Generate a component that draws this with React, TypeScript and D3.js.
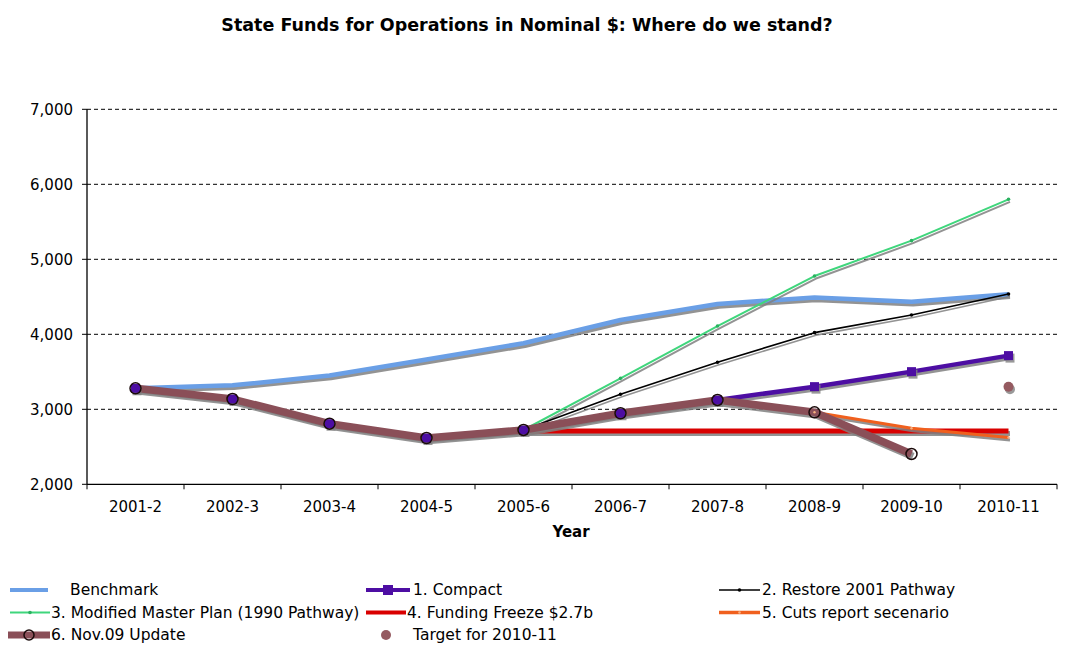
import React, { useEffect } from "react";
import * as d3 from "d3";

const categories = ["2001-2","2002-3","2003-4","2004-5","2005-6","2006-7","2007-8","2008-9","2009-10","2010-11"];
const yTicks = [2000, 3000, 4000, 5000, 6000, 7000];

const benchmark = [3280, 3320, 3450, 3665, 3880, 4190, 4405, 4490, 4435, 4535];
const compact = [3280, 3137, 2808, 2617, 2724, 2947, 3124, 3302, 3502, 3716];
const restore = [null, null, null, null, 2724, 3200, 3627, 4022, 4257, 4537];
const masterPlan = [null, null, null, null, 2724, 3413, 4110, 4777, 5249, 5800];
const freeze = [null, null, null, null, 2712, 2712, 2712, 2712, 2712, 2712];
const cuts = [null, null, null, null, null, null, null, 2960, 2747, 2625];
const nov09 = [3280, 3137, 2808, 2617, 2724, 2947, 3124, 2960, 2404, null];
const target = [null, null, null, null, null, null, null, null, null, 3300];

const W = 1087, H = 651;
const x0 = 87, x1 = 1057, yTop = 109.3, yBot = 484.3;

const FONT = "'DejaVu Sans', Verdana, sans-serif";

type S = { name: string; data: (number | null)[]; color: string; width: number };

const series: S[] = [
  { name: "Benchmark", data: benchmark, color: "#6a9fe6", width: 4.5 },
  { name: "3. Modified Master Plan (1990 Pathway)", data: masterPlan, color: "#3fd67c", width: 2 },
  { name: "2. Restore 2001 Pathway", data: restore, color: "#000000", width: 1.6 },
  { name: "4. Funding Freeze $2.7b", data: freeze, color: "#d90000", width: 5 },
  { name: "5. Cuts report secenario", data: cuts, color: "#f0601e", width: 3 },
  { name: "1. Compact", data: compact, color: "#4d0ea3", width: 4.5 },
  { name: "6. Nov.09 Update", data: nov09, color: "#8a4f58", width: 7.5 },
];

export default function App() {
  useEffect(() => {
    document.body.style.margin = "0";
  }, []);

  const x = d3.scaleBand<string>().domain(categories).range([x0, x1]).padding(0);
  const y = d3.scaleLinear().domain([2000, 7000]).range([yBot, yTop]);
  const cx = (i: number) => (x(categories[i]) as number) + x.bandwidth() / 2;

  const line = d3
    .line<number | null>()
    .defined((d) => d !== null)
    .x((_, i) => cx(i))
    .y((d) => y(d as number));

  const idx = (arr: (number | null)[]) => arr.map((v, i) => ({ v, i })).filter((d) => d.v !== null) as { v: number; i: number }[];

  const legendRows = [
    [
      { key: "bench", label: "Benchmark", tx: 70 },
      { key: "compact", label: "1. Compact", tx: 413 },
      { key: "restore", label: "2. Restore 2001 Pathway", tx: 762 },
    ],
    [
      { key: "green", label: "3. Modified Master Plan (1990 Pathway)", tx: 51 },
      { key: "freeze", label: "4. Funding Freeze $2.7b", tx: 407 },
      { key: "cuts", label: "5. Cuts report secenario", tx: 762 },
    ],
    [
      { key: "nov", label: "6. Nov.09 Update", tx: 51 },
      { key: "target", label: "Target for 2010-11", tx: 413 },
    ],
  ];
  const rowY = [590, 612.5, 635];

  const legendSymbol = (key: string, ry: number) => {
    switch (key) {
      case "bench":
        return <line x1={10} x2={48} y1={ry} y2={ry} stroke="#6a9fe6" strokeWidth={4} />;
      case "compact":
        return (
          <g>
            <line x1={366} x2={410} y1={ry} y2={ry} stroke="#4d0ea3" strokeWidth={4} />
            <rect x={383} y={ry - 5} width={10} height={10} fill="#4d0ea3" />
          </g>
        );
      case "restore":
        return (
          <g>
            <line x1={719} x2={760} y1={ry} y2={ry} stroke="#000" strokeWidth={1.6} />
            <circle cx={739.5} cy={ry} r={1.8} fill="#000" />
          </g>
        );
      case "green":
        return (
          <g>
            <line x1={10} x2={50} y1={ry} y2={ry} stroke="#3fd67c" strokeWidth={2} />
            <circle cx={30} cy={ry} r={1.8} fill="#2bb060" />
          </g>
        );
      case "freeze":
        return <line x1={366} x2={406} y1={ry} y2={ry} stroke="#d90000" strokeWidth={4} />;
      case "cuts":
        return (
          <g>
            <line x1={719} x2={760} y1={ry} y2={ry} stroke="#f0601e" strokeWidth={3.5} />
            <circle cx={739.5} cy={ry} r={1.3} fill="#f6b080" />
          </g>
        );
      case "nov":
        return (
          <g>
            <line x1={8} x2={50} y1={ry} y2={ry} stroke="#8a4f58" strokeWidth={7} />
            <circle cx={29} cy={ry} r={5} fill="none" stroke="#1a0a0a" strokeWidth={1.5} />
          </g>
        );
      case "target":
        return <circle cx={386} cy={ry} r={5} fill="#955a60" />;
    }
    return null;
  };

  return (
    <svg width={W} height={H} style={{ position: "absolute", left: 0, top: 0, background: "#fff" }} fontFamily={FONT}>
      <rect width={W} height={H} fill="#fff" />
      <text x={527} y={31} textAnchor="middle" fontSize={17.5} fontWeight="bold" fill="#000">
        State Funds for Operations in Nominal $: Where do we stand?
      </text>

      {/* gridlines */}
      {yTicks.filter((t) => t !== 2000).map((t) => (
        <line key={t} x1={x0} x2={x1} y1={y(t)} y2={y(t)} stroke="#000" strokeWidth={1} strokeDasharray="4,3" />
      ))}

      {/* axes */}
      <line x1={x0} x2={x0} y1={yTop} y2={yBot} stroke="#000" strokeWidth={1.3} />
      <line x1={x0} x2={x1} y1={yBot} y2={yBot} stroke="#000" strokeWidth={1.3} />
      {yTicks.map((t) => (
        <g key={t}>
          <line x1={x0 - 5} x2={x0} y1={y(t)} y2={y(t)} stroke="#000" />
          <text x={73} y={y(t)} dy="0.35em" textAnchor="end" fontSize={15} fill="#000">
            {d3.format(",")(t)}
          </text>
        </g>
      ))}
      {categories.map((c, i) => (
        <g key={c}>
          <line x1={x(c) as number} x2={x(c) as number} y1={yBot} y2={yBot + 5} stroke="#000" />
          <text x={cx(i)} y={507} dy="0.35em" textAnchor="middle" fontSize={15} fill="#000">
            {c}
          </text>
        </g>
      ))}
      <line x1={x1} x2={x1} y1={yBot} y2={yBot + 5} stroke="#000" />
      <text x={571} y={532} dy="0.35em" textAnchor="middle" fontSize={15} fontWeight="bold" fill="#000">
        Year
      </text>

      {/* series */}
      {series.map((s) => (
        <g key={s.name}>
          <path d={line(s.data) || ""} fill="none" stroke="#808080" strokeOpacity={0.85} strokeWidth={s.width} transform="translate(1.5,2.5)" strokeLinejoin="round" />
          <path d={line(s.data) || ""} fill="none" stroke={s.color} strokeWidth={s.width} strokeLinejoin="round" />
        </g>
      ))}

      {/* markers */}
      {idx(masterPlan).map((d) => (
        <circle key={"g" + d.i} cx={cx(d.i)} cy={y(d.v)} r={1.8} fill="#2bb060" />
      ))}
      {idx(restore).map((d) => (
        <circle key={"r" + d.i} cx={cx(d.i)} cy={y(d.v)} r={1.8} fill="#000" />
      ))}
      {idx(cuts).map((d) => (
        <circle key={"c" + d.i} cx={cx(d.i)} cy={y(d.v)} r={1.2} fill="#f6b080" />
      ))}
      {idx(compact).map((d) => (
        <g key={"p" + d.i}>
          <rect x={cx(d.i) - 4.5 + 1.5} y={y(d.v) - 4.5 + 2.5} width={9} height={9} fill="#808080" opacity={0.8} />
          <rect x={cx(d.i) - 4.5} y={y(d.v) - 4.5} width={9} height={9} fill="#4d0ea3" />
        </g>
      ))}
      {idx(nov09).map((d) => (
        <circle key={"n" + d.i} cx={cx(d.i)} cy={y(d.v)} r={5.5} fill="none" stroke="#1a0a0a" strokeWidth={1.5} />
      ))}
      {idx(target).map((d) => (
        <g key={"t" + d.i}>
          <circle cx={cx(d.i) + 1.5} cy={y(d.v) + 2.5} r={5} fill="#808080" opacity={0.8} />
          <circle cx={cx(d.i)} cy={y(d.v)} r={5} fill="#955a60" />
        </g>
      ))}

      {/* legend */}
      {legendRows.map((row, ri) =>
        row.map((it) => (
          <g key={it.key}>
            {legendSymbol(it.key, rowY[ri])}
            <text x={it.tx} y={rowY[ri]} dy="0.35em" fontSize={15.5} fill="#000">
              {it.label}
            </text>
          </g>
        ))
      )}
    </svg>
  );
}
